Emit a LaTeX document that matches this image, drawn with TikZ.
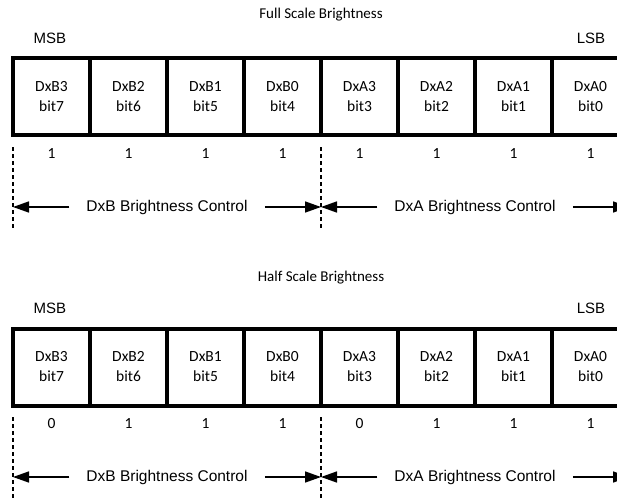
\documentclass[tikz,border=0pt]{standalone}
\usepackage{fontspec}
\setmainfont{Liberation Sans}
\newfontfamily\calfont{Carlito}
\usetikzlibrary{arrows.meta}
\tikzset{
  bitbox/.style={draw, line width=4pt, minimum width=77pt, minimum height=77pt,
    inner sep=0pt, align=center, font=\calfont\fontsize{15.5}{20}\selectfont},
  valtxt/.style={inner sep=0pt, font=\calfont\fontsize{15.5}{17}\selectfont},
  title/.style={inner sep=0pt, font=\calfont\fontsize{15}{17}\selectfont},
  endlbl/.style={inner sep=0pt, font=\fontsize{15}{18}\selectfont},
  ctrllbl/.style={inner ysep=0pt, inner xsep=17pt, font=\fontsize{15.5}{18}\selectfont},
  divider/.style={line width=1.2pt, dash pattern=on 4pt off 3pt},
  ctrlarrow/.style={line width=1.5pt, -{Triangle[length=16pt,width=11pt]}}
}
\newcommand{\bitpanel}[4]{%
  \begin{scope}[shift={(0,#2)}]
    \node[title] (#1title) at (321,#3) {#1 Scale Brightness};
    \node[endlbl] (#1msb) at (50,38) {MSB};
    \node[endlbl] (#1lsb) at (591,38) {LSB};
    \foreach \lab [count=\i from 0] in {DxB3,DxB2,DxB1,DxB0,DxA3,DxA2,DxA1,DxA0} {
      \pgfmathtruncatemacro\bitn{7-\i}
      \node[bitbox] (#1b\bitn) at ({13+77*\i+38.5},97) {\lab\\bit\bitn};
    }
    \foreach \v [count=\i from 0] in {#4} {
      \pgfmathtruncatemacro\bitn{7-\i}
      \node[valtxt] (#1v\bitn) at ({13+77*\i+38.5},154) {\v};
    }
    \coordinate (#1dat) at (13,147);
    \coordinate (#1dab) at (13,230);
    \coordinate (#1dbt) at (321,147);
    \coordinate (#1dbb) at (321,230);
    \coordinate (#1aL) at (13,207);
    \coordinate (#1aM) at (321,207);
    \coordinate (#1aR) at (629,207);
    \draw[divider] (#1dat) -- (#1dab);
    \draw[divider] (#1dbt) -- (#1dbb);
    \node[ctrllbl] (#1lblB) at (167,207) {DxB Brightness Control};
    \node[ctrllbl] (#1lblA) at (475,207) {DxA Brightness Control};
    \draw[ctrlarrow] (#1lblB.west) -- (#1aL);
    \draw[ctrlarrow] (#1lblB.east) -- (#1aM);
    \draw[ctrlarrow] (#1lblA.west) -- (#1aM);
    \draw[ctrlarrow] (#1lblA.east) -- (#1aR);
  \end{scope}}
\begin{document}
\begin{tikzpicture}[x=1pt,y=-1pt]
  \path[use as bounding box, clip] (0,0) rectangle (617,497);
  \bitpanel{Full}{0}{15}{1,1,1,1,1,1,1,1}
  \bitpanel{Half}{270}{8}{0,1,1,1,0,1,1,1}
\end{tikzpicture}
\end{document}
